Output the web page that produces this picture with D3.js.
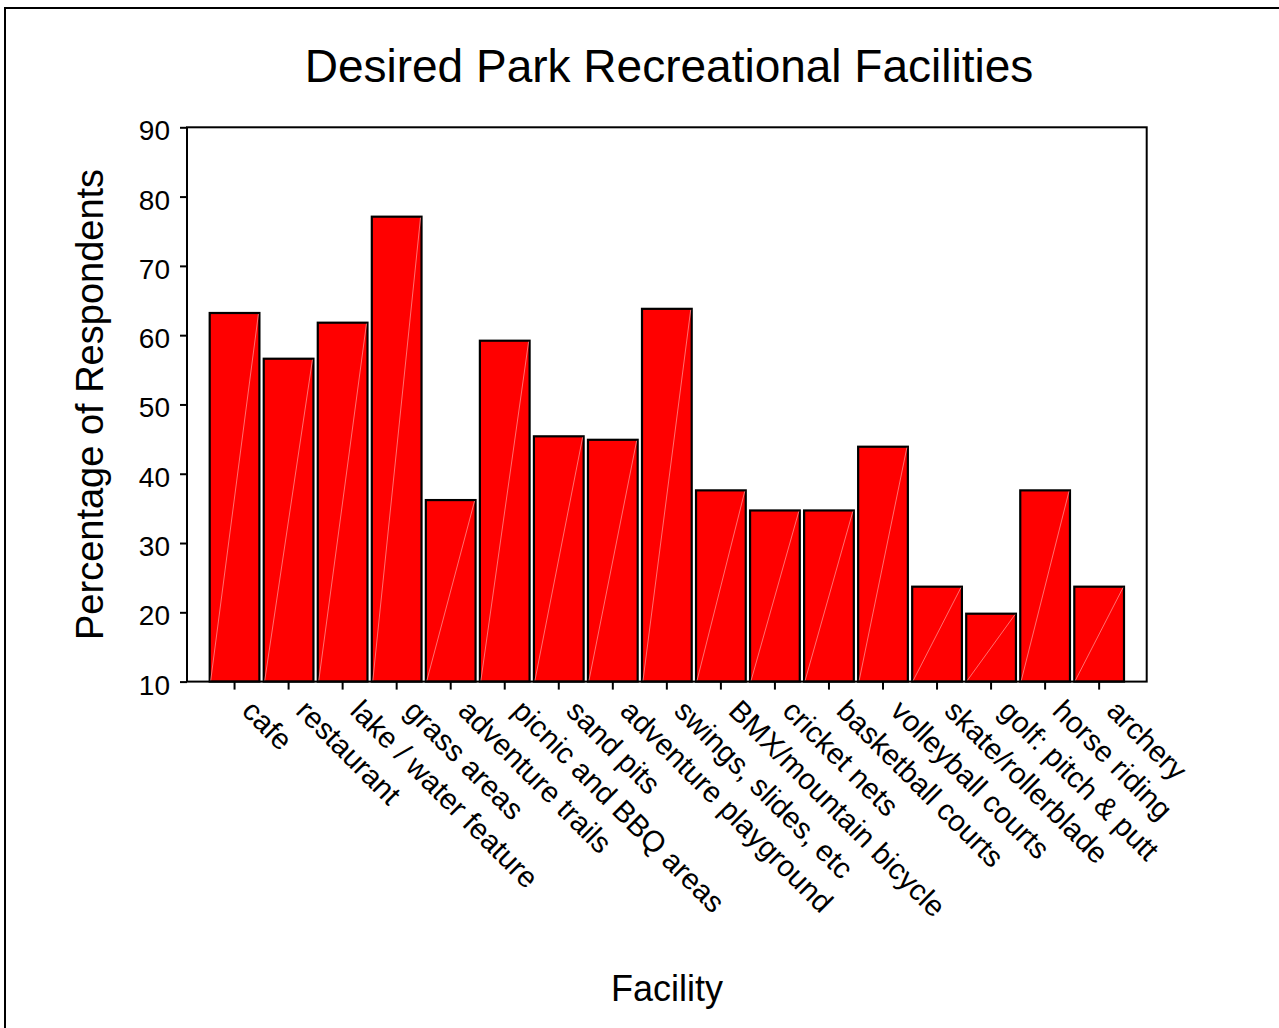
<!DOCTYPE html>
<html>
<head>
<meta charset="utf-8">
<script src="https://cdnjs.cloudflare.com/ajax/libs/d3/7.8.5/d3.min.js"></script>
<style>
  body { margin: 0; background: #fff; }
  text { font-family: "Liberation Sans", Arial, sans-serif; fill: #000; }
</style>
</head>
<body>
<div id="chart"></div>
<script>
// chart data
var facilities = [
  "cafe", "restaurant", "lake / water feature", "grass areas",
  "adventure trails", "picnic and BBQ areas", "sand pits",
  "adventure playground", "swings, slides, etc", "BMX/mountain bicycle",
  "cricket nets", "basketball courts", "volleyball courts",
  "skate/rollerblade", "golf: pitch & putt", "horse riding", "archery"
];
var percentages = [
  63.2, 56.6, 61.8, 77.1, 36.2, 59.2, 45.4, 44.9, 63.8,
  37.6, 34.7, 34.7, 43.9, 23.7, 19.8, 37.6, 23.7
];
var yTicks = [10, 20, 30, 40, 50, 60, 70, 80, 90];

var width = 1279;
var height = 1028;

// plot box edges
var plotLeft = 187;
var plotRight = 1146.7;
var plotTop = 127.3;
var plotBottom = 681.6;

var svg = d3
  .select("#chart")
  .append("svg")
  .attr("width", width)
  .attr("height", height);

// outer frame (only left and top edges show)
svg
  .append("rect")
  .attr("x", 5)
  .attr("y", 8)
  .attr("width", width + 20)
  .attr("height", height + 20)
  .attr("fill", "none")
  .attr("stroke", "#000")
  .attr("stroke-width", 2);

//scales
var xScale = d3
  .scaleBand()
  .domain(facilities)
  .range([plotLeft, plotRight])
  .paddingInner(0.08)
  .paddingOuter(0.42);

var yScale = d3
  .scaleLinear()
  .domain([10, 90])
  .range([plotBottom, plotTop]);

//bars
var bars = svg
  .selectAll("g.bar")
  .data(percentages)
  .enter()
  .append("g")
  .attr("class", "bar");

bars
  .append("rect")
  .attr("x", function(d, i) {
    return xScale(facilities[i]);
  })
  .attr("y", function(d) {
    return yScale(d);
  })
  .attr("width", xScale.bandwidth())
  .attr("height", function(d) {
    return yScale(10) - yScale(d);
  })
  .attr("fill", "#ff0000")
  .attr("stroke", "#000")
  .attr("stroke-width", 2.2);

// faint diagonal seam inside each bar
bars
  .append("line")
  .attr("x1", function(d, i) {
    return xScale(facilities[i]) + 1;
  })
  .attr("y1", yScale(10) - 1)
  .attr("x2", function(d, i) {
    return xScale(facilities[i]) + xScale.bandwidth() - 1;
  })
  .attr("y2", function(d) {
    return yScale(d) + 1;
  })
  .attr("stroke", "#ff8c8c")
  .attr("stroke-width", 0.8);

// plot box
svg
  .append("rect")
  .attr("x", plotLeft)
  .attr("y", plotTop)
  .attr("width", plotRight - plotLeft)
  .attr("height", plotBottom - plotTop)
  .attr("fill", "none")
  .attr("stroke", "#000")
  .attr("stroke-width", 2);

// y axis
var yAxis = d3
  .axisLeft(yScale)
  .tickValues(yTicks)
  .tickSize(7)
  .tickPadding(10);

var yAxisG = svg
  .append("g")
  .attr("class", "yAxis")
  .attr("transform", "translate(" + plotLeft + ",0)")
  .call(yAxis);

yAxisG.select(".domain").remove();
yAxisG.selectAll("line").attr("stroke", "#000").attr("stroke-width", 2);
yAxisG
  .selectAll("text")
  .attr("font-size", 28)
  .attr("dy", null)
  .attr("y", 12.5)
  .attr("font-family", "Liberation Sans, Arial, sans-serif");

// x axis
var xAxis = d3.axisBottom(xScale).tickSize(8).tickFormat("");

var xAxisG = svg
  .append("g")
  .attr("class", "xAxis")
  .attr("transform", "translate(0," + plotBottom + ")")
  .call(xAxis);

xAxisG.select(".domain").remove();
xAxisG.selectAll("line").attr("stroke", "#000").attr("stroke-width", 2);

// rotated category labels
svg
  .append("g")
  .selectAll("text")
  .data(facilities)
  .enter()
  .append("text")
  .attr("transform", function(d) {
    var x = xScale(d) + xScale.bandwidth() / 2 + 6;
    return "translate(" + x + "," + (plotBottom + 31) + ")rotate(45)";
  })
  .attr("font-size", 29.5)
  .text(function(d) {
    return d;
  });

// title
svg
  .append("text")
  .attr("x", 669)
  .attr("y", 82)
  .attr("text-anchor", "middle")
  .attr("font-size", 46)
  .text("Desired Park Recreational Facilities");

// axis titles
svg
  .append("text")
  .attr("x", 667)
  .attr("y", 1001)
  .attr("text-anchor", "middle")
  .attr("font-size", 36)
  .text("Facility");

svg
  .append("text")
  .attr("transform", "translate(103," + (plotTop + plotBottom) / 2 + ")rotate(-90)")
  .attr("text-anchor", "middle")
  .attr("font-size", 38)
  .text("Percentage of Respondents");
</script>
</body>
</html>
